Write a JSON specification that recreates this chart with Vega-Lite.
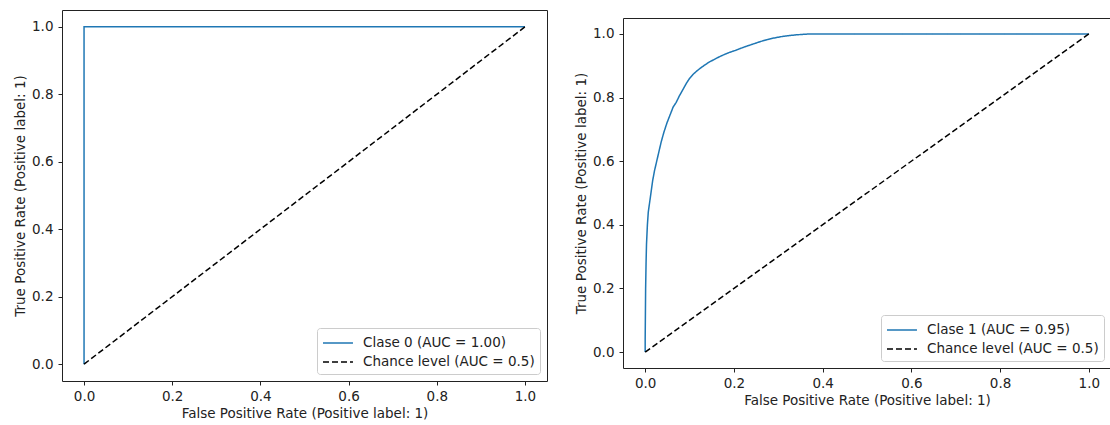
{
  "$schema": "https://vega.github.io/schema/vega-lite/v6.json",
  "padding": {"left": 13, "top": 9, "right": 0, "bottom": 0},
  "autosize": {"type": "pad"},
  "background": "white",
  "spacing": 26,
  "config": {
    "font": "DejaVu Sans",
    "view": {"stroke": "#222222", "strokeWidth": 1},
    "axis": {
      "domain": false,
      "grid": false,
      "tickColor": "#222222",
      "tickSize": 4,
      "tickWidth": 1,
      "labelFont": "DejaVu Sans",
      "labelFontSize": 13.5,
      "labelColor": "#222222",
      "titleFont": "DejaVu Sans",
      "titleFontSize": 13.5,
      "titleFontWeight": "normal",
      "titleColor": "#222222"
    },
    "axisX": {"labelPadding": 4, "titlePadding": 4},
    "axisY": {"labelPadding": 5, "titlePadding": 4},
    "legend": {
      "orient": "bottom-right",
      "offset": 7,
      "title": null,
      "fillColor": "rgba(255,255,255,0.85)",
      "strokeColor": "#cccccc",
      "cornerRadius": 3,
      "padding": 5,
      "symbolType": "M-1,0H2.33",
      "symbolSize": 324,
      "symbolStrokeWidth": 1.5,
      "labelOffset": 21,
      "labelLimit": 400,
      "labelFont": "DejaVu Sans",
      "labelFontSize": 13.5,
      "labelColor": "#222222",
      "rowPadding": 2
    }
  },
  "resolve": {
    "scale": {"color": "independent", "strokeDash": "independent"},
    "legend": {"color": "independent", "strokeDash": "independent"}
  },
  "hconcat": [
    {
      "width": 485,
      "height": 371,
      "data": {
        "values": [
          {"series": "Clase 0 (AUC = 1.00)", "fpr": 0, "tpr": 0},
          {"series": "Clase 0 (AUC = 1.00)", "fpr": 0, "tpr": 1},
          {"series": "Clase 0 (AUC = 1.00)", "fpr": 1, "tpr": 1},
          {"series": "Chance level (AUC = 0.5)", "fpr": 0, "tpr": 0},
          {"series": "Chance level (AUC = 0.5)", "fpr": 1, "tpr": 1}
        ]
      },
      "mark": {"type": "line", "strokeWidth": 1.5, "clip": false},
      "encoding": {
        "x": {
          "field": "fpr", "type": "quantitative",
          "scale": {"domain": [-0.05, 1.05], "nice": false, "zero": false},
          "axis": {"values": [0, 0.2, 0.4, 0.6, 0.8, 1], "format": ".1f", "title": "False Positive Rate (Positive label: 1)"}
        },
        "y": {
          "field": "tpr", "type": "quantitative",
          "scale": {"domain": [-0.05, 1.05], "nice": false, "zero": false},
          "axis": {"values": [0, 0.2, 0.4, 0.6, 0.8, 1], "format": ".1f", "title": "True Positive Rate (Positive label: 1)"}
        },
        "color": {
          "field": "series", "type": "nominal",
          "scale": {"domain": ["Clase 0 (AUC = 1.00)", "Chance level (AUC = 0.5)"], "range": ["#1f77b4", "#000000"]}
        },
        "strokeDash": {
          "field": "series", "type": "nominal",
          "scale": {"domain": ["Clase 0 (AUC = 1.00)", "Chance level (AUC = 0.5)"], "range": [[1, 0], [6, 3]]}
        },
        "order": {"value": null}
      }
    },
    {
      "spacing": 6,
      "resolve": {
        "scale": {"color": "independent", "strokeDash": "independent"},
        "legend": {"color": "independent", "strokeDash": "independent"}
      },
      "vconcat": [
        {
          "width": 488,
          "height": 1,
          "view": {"stroke": null},
          "data": {"values": []},
          "mark": "rule",
          "encoding": {}
        },
        {
          "width": 488,
          "height": 350,
          "data": {
            "values": [
              {"series": "Clase 1 (AUC = 0.95)", "fpr": 0, "tpr": 0},
              {"series": "Clase 1 (AUC = 0.95)", "fpr": 0, "tpr": 0.04},
              {"series": "Clase 1 (AUC = 0.95)", "fpr": 0.0005, "tpr": 0.12},
              {"series": "Clase 1 (AUC = 0.95)", "fpr": 0.001, "tpr": 0.2},
              {"series": "Clase 1 (AUC = 0.95)", "fpr": 0.002, "tpr": 0.28},
              {"series": "Clase 1 (AUC = 0.95)", "fpr": 0.003, "tpr": 0.34},
              {"series": "Clase 1 (AUC = 0.95)", "fpr": 0.005, "tpr": 0.4},
              {"series": "Clase 1 (AUC = 0.95)", "fpr": 0.007, "tpr": 0.44},
              {"series": "Clase 1 (AUC = 0.95)", "fpr": 0.01, "tpr": 0.47},
              {"series": "Clase 1 (AUC = 0.95)", "fpr": 0.013, "tpr": 0.5},
              {"series": "Clase 1 (AUC = 0.95)", "fpr": 0.017, "tpr": 0.54},
              {"series": "Clase 1 (AUC = 0.95)", "fpr": 0.021, "tpr": 0.57},
              {"series": "Clase 1 (AUC = 0.95)", "fpr": 0.026, "tpr": 0.6},
              {"series": "Clase 1 (AUC = 0.95)", "fpr": 0.031, "tpr": 0.63},
              {"series": "Clase 1 (AUC = 0.95)", "fpr": 0.036, "tpr": 0.66},
              {"series": "Clase 1 (AUC = 0.95)", "fpr": 0.042, "tpr": 0.69},
              {"series": "Clase 1 (AUC = 0.95)", "fpr": 0.049, "tpr": 0.72},
              {"series": "Clase 1 (AUC = 0.95)", "fpr": 0.056, "tpr": 0.745},
              {"series": "Clase 1 (AUC = 0.95)", "fpr": 0.063, "tpr": 0.77},
              {"series": "Clase 1 (AUC = 0.95)", "fpr": 0.07, "tpr": 0.785},
              {"series": "Clase 1 (AUC = 0.95)", "fpr": 0.077, "tpr": 0.805},
              {"series": "Clase 1 (AUC = 0.95)", "fpr": 0.085, "tpr": 0.825},
              {"series": "Clase 1 (AUC = 0.95)", "fpr": 0.093, "tpr": 0.845},
              {"series": "Clase 1 (AUC = 0.95)", "fpr": 0.1, "tpr": 0.86},
              {"series": "Clase 1 (AUC = 0.95)", "fpr": 0.108, "tpr": 0.873},
              {"series": "Clase 1 (AUC = 0.95)", "fpr": 0.116, "tpr": 0.883},
              {"series": "Clase 1 (AUC = 0.95)", "fpr": 0.125, "tpr": 0.893},
              {"series": "Clase 1 (AUC = 0.95)", "fpr": 0.135, "tpr": 0.903},
              {"series": "Clase 1 (AUC = 0.95)", "fpr": 0.145, "tpr": 0.912},
              {"series": "Clase 1 (AUC = 0.95)", "fpr": 0.156, "tpr": 0.92},
              {"series": "Clase 1 (AUC = 0.95)", "fpr": 0.167, "tpr": 0.928},
              {"series": "Clase 1 (AUC = 0.95)", "fpr": 0.178, "tpr": 0.935},
              {"series": "Clase 1 (AUC = 0.95)", "fpr": 0.19, "tpr": 0.942},
              {"series": "Clase 1 (AUC = 0.95)", "fpr": 0.203, "tpr": 0.948},
              {"series": "Clase 1 (AUC = 0.95)", "fpr": 0.216, "tpr": 0.955},
              {"series": "Clase 1 (AUC = 0.95)", "fpr": 0.23, "tpr": 0.962},
              {"series": "Clase 1 (AUC = 0.95)", "fpr": 0.245, "tpr": 0.969},
              {"series": "Clase 1 (AUC = 0.95)", "fpr": 0.26, "tpr": 0.976},
              {"series": "Clase 1 (AUC = 0.95)", "fpr": 0.275, "tpr": 0.982},
              {"series": "Clase 1 (AUC = 0.95)", "fpr": 0.29, "tpr": 0.987},
              {"series": "Clase 1 (AUC = 0.95)", "fpr": 0.305, "tpr": 0.991},
              {"series": "Clase 1 (AUC = 0.95)", "fpr": 0.32, "tpr": 0.994},
              {"series": "Clase 1 (AUC = 0.95)", "fpr": 0.34, "tpr": 0.997},
              {"series": "Clase 1 (AUC = 0.95)", "fpr": 0.36, "tpr": 0.999},
              {"series": "Clase 1 (AUC = 0.95)", "fpr": 0.375, "tpr": 1},
              {"series": "Clase 1 (AUC = 0.95)", "fpr": 1, "tpr": 1},
              {"series": "Chance level (AUC = 0.5)", "fpr": 0, "tpr": 0},
              {"series": "Chance level (AUC = 0.5)", "fpr": 1, "tpr": 1}
            ]
          },
          "mark": {"type": "line", "strokeWidth": 1.5, "clip": false},
          "encoding": {
            "x": {
              "field": "fpr", "type": "quantitative",
              "scale": {"domain": [-0.05, 1.05], "nice": false, "zero": false},
              "axis": {"values": [0, 0.2, 0.4, 0.6, 0.8, 1], "format": ".1f", "title": "False Positive Rate (Positive label: 1)"}
            },
            "y": {
              "field": "tpr", "type": "quantitative",
              "scale": {"domain": [-0.05, 1.05], "nice": false, "zero": false},
              "axis": {"values": [0, 0.2, 0.4, 0.6, 0.8, 1], "format": ".1f", "title": "True Positive Rate (Positive label: 1)"}
            },
            "color": {
              "field": "series", "type": "nominal",
              "scale": {"domain": ["Clase 1 (AUC = 0.95)", "Chance level (AUC = 0.5)"], "range": ["#1f77b4", "#000000"]}
            },
            "strokeDash": {
              "field": "series", "type": "nominal",
              "scale": {"domain": ["Clase 1 (AUC = 0.95)", "Chance level (AUC = 0.5)"], "range": [[1, 0], [6, 3]]}
            },
            "order": {"value": null}
          }
        }
      ]
    }
  ]
}
